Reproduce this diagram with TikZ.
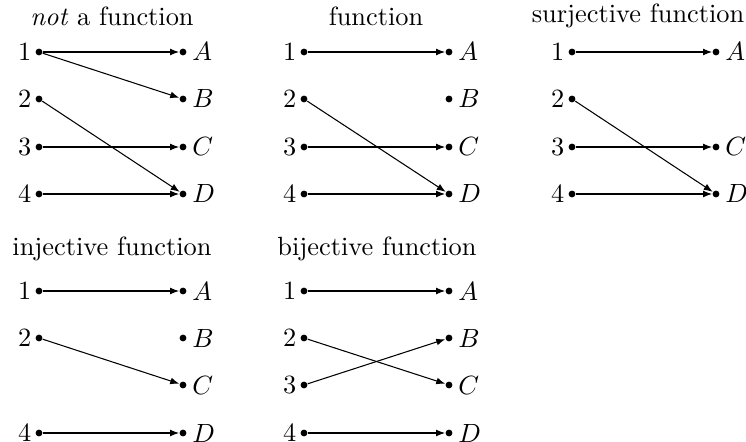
\documentclass[tikz,border=0pt]{standalone}
\usetikzlibrary{arrows.meta}
\begin{document}
\begin{tikzpicture}[x=0.3795pt,y=-0.3795pt,
  dot/.style={circle,fill=black,inner sep=0pt,minimum size=2.6pt},
  ll/.style={inner sep=1.2pt},
  rl/.style={inner sep=1.9pt},
  arr/.style={-{Latex[length=3.4pt,width=2.6pt]},line width=0.4pt},
  ttl/.style={inner sep=0pt}]
\useasboundingbox (0,0) rectangle (746,442);
% titles
\node[ttl] (t1) at (112,16) {\textit{not} a function};
\node[ttl] (t2) at (376,16) {function};
\node[ttl] (t3) at (638,16) {surjective function};
\node[ttl] (t4) at (112,249) {injective function};
\node[ttl] (t5) at (377,249) {bijective function};
% panel 1
\foreach \n/\y in {1/52,2/99,3/147,4/194}
  \node[dot,label={[ll]left:\n}] (pl\n) at (39,\y) {};
\foreach \n/\y in {A/52,B/99,C/147,D/194}
  \node[dot,label={[rl]right:$\n$}] (pr\n) at (183,\y) {};
\draw[arr] (pl1) -- (prA);
\draw[arr] (pl1) -- (prB);
\draw[arr] (pl2) -- (prD);
\draw[arr] (pl3) -- (prC);
\draw[arr] (pl4) -- (prD);
% panel 2
\foreach \n/\y in {1/52,2/99,3/147,4/194}
  \node[dot,label={[ll]left:\n}] (ql\n) at (304,\y) {};
\foreach \n/\y in {A/52,B/99,C/147,D/194}
  \node[dot,label={[rl]right:$\n$}] (qr\n) at (449,\y) {};
\draw[arr] (ql1) -- (qrA);
\draw[arr] (ql2) -- (qrD);
\draw[arr] (ql3) -- (qrC);
\draw[arr] (ql4) -- (qrD);
% panel 3
\foreach \n/\y in {1/52,2/99,3/147,4/194}
  \node[dot,label={[ll]left:\n}] (rl\n) at (572,\y) {};
\foreach \n/\y in {A/52,C/147,D/194}
  \node[dot,label={[rl]right:$\n$}] (rr\n) at (716,\y) {};
\draw[arr] (rl1) -- (rrA);
\draw[arr] (rl2) -- (rrD);
\draw[arr] (rl3) -- (rrC);
\draw[arr] (rl4) -- (rrD);
% panel 4
\foreach \n/\y in {1/291,2/338,4/433}
  \node[dot,label={[ll]left:\n}] (sl\n) at (39,\y) {};
\foreach \n/\y in {A/291,B/338,C/385,D/433}
  \node[dot,label={[rl]right:$\n$}] (sr\n) at (183,\y) {};
\draw[arr] (sl1) -- (srA);
\draw[arr] (sl2) -- (srC);
\draw[arr] (sl4) -- (srD);
% panel 5
\foreach \n/\y in {1/291,2/338,3/385,4/433}
  \node[dot,label={[ll]left:\n}] (ul\n) at (304,\y) {};
\foreach \n/\y in {A/291,B/338,C/385,D/433}
  \node[dot,label={[rl]right:$\n$}] (ur\n) at (449,\y) {};
\draw[arr] (ul1) -- (urA);
\draw[arr] (ul2) -- (urC);
\draw[arr] (ul3) -- (urB);
\draw[arr] (ul4) -- (urD);
\end{tikzpicture}
\end{document}
